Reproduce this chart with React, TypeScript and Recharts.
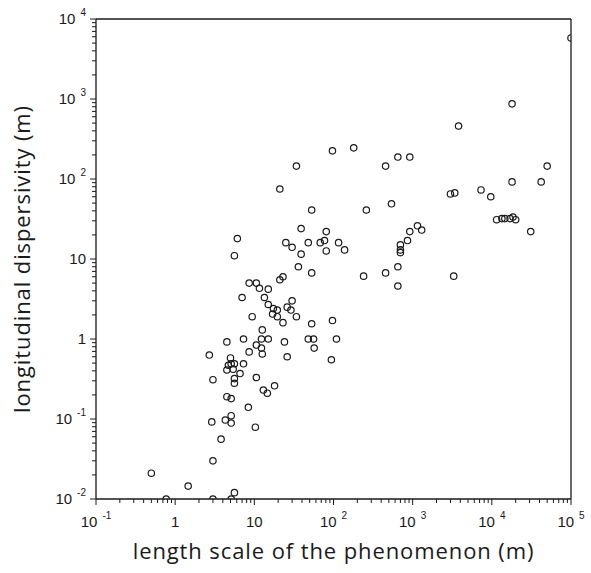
import { ScatterChart, Scatter, XAxis, YAxis, ReferenceLine } from 'recharts'

// field-scale dispersivity vs. length scale
const lengthScale = [
  100000, 18000, 3800, 180, 97, 34, 21, 455, 650, 920, 50000, 18000, 42000, 3000, 3400, 7300, 9700, 260, 540,
  11500, 13400, 14600, 17000, 18500, 20000, 31000, 1150, 1300, 920, 860, 700, 700, 700, 650, 116, 138, 240, 455,
  650, 3300, 97, 53, 39, 81, 6.1, 25, 30, 48, 68, 77, 81, 39, 5.6, 36, 53, 23, 21, 8.6, 10.6, 11.6, 15, 7, 13.4,
  15, 17.4, 19.5, 17, 19.5, 26, 30, 29, 34, 23, 9.4, 53, 12.6, 4.5, 7.3, 12.3, 15, 24, 48, 56, 109, 10.6, 12.3,
  12.6, 8.6, 57, 2.7, 5, 26, 94, 4.7, 5.1, 5.6, 4.5, 5.4, 7.3, 6.6, 10.6, 5.6, 5.6, 3, 13, 14.6, 18, 4.5, 5.1,
  8.4, 5.1, 4.3, 5.1, 2.9, 10.3, 3.8, 3, 0.5, 1.46, 5.6, 0.77, 3, 5.1,
]

const dispersivity = [
  5800, 870, 460, 245, 225, 145, 75, 145, 188, 188, 145, 92, 92, 65, 67, 73, 60, 41, 49,
  31, 32, 32, 32, 33.5, 31, 22, 26, 23, 22, 17, 15, 13, 12, 8, 16, 13, 6.1, 6.7,
  4.6, 6.1, 1.7, 41, 24, 22, 18, 16, 14, 16, 16, 17, 12.6, 11.5, 11, 8, 6.7, 6, 5.5, 5, 5, 4.3, 4.2, 3.3, 3.3,
  2.7, 2.4, 2.3, 2.05, 1.9, 2.5, 3, 2.3, 1.9, 1.6, 1.9, 1.55, 1.3, 0.92, 1, 1, 1, 0.92, 1, 1, 1, 0.84, 0.77,
  0.65, 0.69, 0.77, 0.63, 0.58, 0.6, 0.55, 0.47, 0.49, 0.49, 0.41, 0.42, 0.49, 0.37, 0.33, 0.32, 0.28, 0.31, 0.23, 0.21, 0.26, 0.19, 0.18,
  0.14, 0.11, 0.097, 0.089, 0.092, 0.079, 0.056, 0.03, 0.021, 0.0145, 0.012, 0.01, 0.01, 0.01,
]

const xDecades = [0.1, 1, 10, 100, 1000, 10000, 100000]
const xExponents = [-1, 0, 1, 2, 3, 4, 5]
const yDecades = [0.01, 0.1, 1, 10, 100, 1000, 10000]
const yExponents = [-2, -1, 0, 1, 2, 3, 4]
const minorSteps = [2, 3, 4, 5, 6, 7, 8, 9]

const data = lengthScale.map((x, i) => ({ x, y: dispersivity[i] }))

const withMinors = (decades: number[]) =>
  [...decades, ...decades.slice(0, -1).flatMap(d => minorSteps.map(m => +(m * d).toPrecision(4)))].sort((a, b) => a - b)

const xTicks = withMinors(xDecades)
const yTicks = withMinors(yDecades)

const INK = '#1a1a1a'
const tickFont = { fontFamily: '"Liberation Sans", Arial, sans-serif', fontSize: 15, fill: INK }

function Power({ exp, ...rest }: any) {
  if (exp === 0) return <text {...rest} {...tickFont}>1</text>
  if (exp === 1) return <text {...rest} {...tickFont}>10</text>
  return (
    <text {...rest} {...tickFont}>
      10
      <tspan dx={5} dy={-8} fontSize={10}>{exp}</tspan>
    </text>
  )
}

// tick marks and labels both drawn here; x / y come in at the axis line
function XTick({ x, y, payload }: any) {
  const i = xDecades.indexOf(payload.value)
  const len = i >= 0 ? 6 : 4
  return (
    <g>
      <path d={`M${x},${y}V${y + len}`} stroke={INK} strokeWidth={1} fill="none" />
      {i >= 0 && <Power exp={xExponents[i]} x={x} y={y + 28} textAnchor="middle" />}
    </g>
  )
}

function YTick({ x, y, payload }: any) {
  const i = yDecades.indexOf(payload.value)
  const len = i >= 0 ? 6 : 4
  return (
    <g>
      <path d={`M${x - len},${y}H${x}`} stroke={INK} strokeWidth={1} fill="none" />
      {i >= 0 && <Power exp={yExponents[i]} x={x - 10} y={y + 5} textAnchor="end" />}
    </g>
  )
}

function Ring({ cx, cy }: any) {
  return <circle cx={cx} cy={cy} r={3.2} fill="none" stroke={INK} strokeWidth={1.2} />
}

const titleStyle = { fontFamily: '"Open Sans", sans-serif', fontSize: 22, letterSpacing: 0.9, fill: INK }

export default function App() {
  return (
    <div style={{ position: 'absolute', left: 0, top: 0, background: '#fff' }}>
      <ScatterChart width={591} height={573} margin={{ top: 19, right: 20, bottom: 0, left: 0 }}>
        <XAxis
          dataKey="x"
          type="number"
          scale="log"
          domain={[0.1, 100000]}
          allowDataOverflow
          ticks={xTicks}
          interval={0}
          tick={<XTick />}
          tickLine={false}
          tickSize={0}
          tickMargin={0}
          height={74}
          axisLine={{ stroke: INK, strokeWidth: 1.3 }}
          label={{ value: 'length scale of the phenomenon (m)', position: 'insideBottom', offset: 14, style: titleStyle }}
        />
        <YAxis
          dataKey="y"
          type="number"
          scale="log"
          domain={[0.01, 10000]}
          allowDataOverflow
          ticks={yTicks}
          interval={0}
          tick={<YTick />}
          tickLine={false}
          tickSize={0}
          tickMargin={0}
          width={96}
          axisLine={{ stroke: INK, strokeWidth: 1.3 }}
          label={{
            value: 'longitudinal dispersivity (m)',
            angle: -90,
            position: 'insideLeft',
            offset: 22,
            style: { ...titleStyle, textAnchor: 'middle' },
          }}
        />
        <ReferenceLine y={10000} stroke={INK} strokeWidth={1.3} />
        <ReferenceLine x={100000} stroke={INK} strokeWidth={1.3} />
        <Scatter data={data} shape={<Ring />} isAnimationActive={false} />
      </ScatterChart>
    </div>
  )
}
